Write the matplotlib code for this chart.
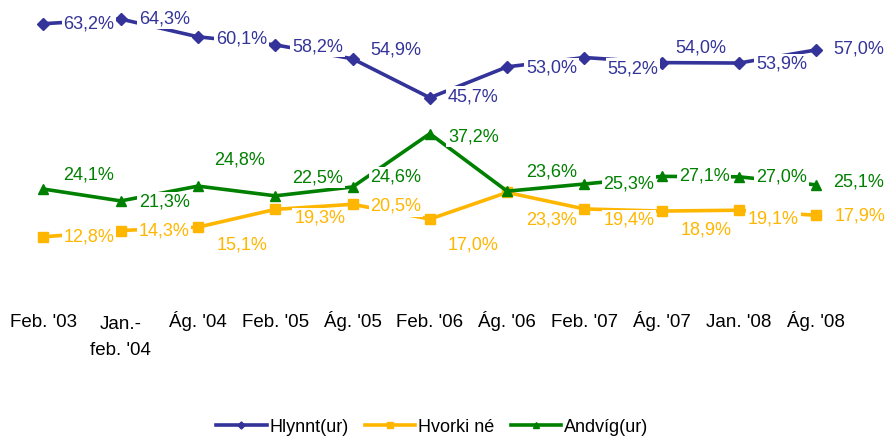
import matplotlib
matplotlib.use("Agg")
import matplotlib.pyplot as plt
from matplotlib.transforms import ScaledTranslation

plt.rcParams['font.family'] = ['Liberation Sans', 'DejaVu Sans']

categories = ["Feb. '03", "Jan.-\nfeb. '04", "Ág. '04", "Feb. '05", "Ág. '05", "Feb. '06",
              "Ág. '06", "Feb. '07", "Ág. '07", "Jan. '08", "Ág. '08"]
hlynnt = [63.2, 64.3, 60.1, 58.2, 54.9, 45.7, 53.0, 55.2, 54.0, 53.9, 57.0]
hvorki = [12.8, 14.3, 15.1, 19.3, 20.5, 17.0, 23.3, 19.4, 18.9, 19.1, 17.9]
andvig = [24.1, 21.3, 24.8, 22.5, 24.6, 37.2, 23.6, 25.3, 27.1, 27.0, 25.1]
series_names = ["Hlynnt(ur)", "Hvorki né", "Andvíg(ur)"]

# label placement offsets in pixels (dx, dy up)
off_blue = [(20, 0), (18, 0), (18, -2), (17, -2), (18, 9), (18, 1), (19, -1),
            (23, -11), (14, 15), (17, -1), (17, 1)]
off_yellow = [(20, 0), (18, 0), (19, -18), (19, -9), (18, -2), (18, -26), (19, -28),
              (19, -11), (19, -19), (9, -9), (18, -1)]
off_green = [(20, 14), (18, -1), (16, 26), (17, 18), (18, 10), (18, -3), (19, 19),
             (19, 0), (17, 0), (17, 0), (17, 3)]

BLUE = '#333399'
YELLOW = '#FFB600'
GREEN = '#008000'

fig = plt.figure(figsize=(8.88, 4.41), dpi=100)
ax = fig.add_axes([4.85 / 888, 150 / 441, 850 / 888, 287.6 / 441])
x = list(range(len(categories)))

specs = [
    (hlynnt, BLUE, 'D', 6, off_blue),
    (hvorki, YELLOW, 's', 7, off_yellow),
    (andvig, GREEN, '^', 7.5, off_green),
]
handles = []
for (vals, col, mk, ms, offs), name in zip(specs, series_names):
    h, = ax.plot(x, vals, color=col, lw=2.6, marker=mk, ms=ms, mec=col, mfc=col,
                 label=name, zorder=2, clip_on=False)
    handles.append(h)
    for xi, v, (dx, dy) in zip(x, vals, offs):
        ax.annotate(f"{v:.1f}%".replace('.', ','), (xi, v), xytext=(dx, dy),
                    textcoords='offset pixels', ha='left', va='center',
                    fontsize=13, color=col, zorder=3,
                    bbox=dict(boxstyle='square,pad=0.1', fc='white', ec='none'))

ax.set_xlim(-0.5, 10.5)
ax.set_ylim(0, 68)
ax.set_xticks(x)
ax.tick_params(axis='x', length=0, pad=26)
ax.set_xticklabels(categories, fontsize=13.5, linespacing=1.7, va='baseline')
for lbl in ax.get_xticklabels():
    nlines = lbl.get_text().count('\n')
    if nlines:
        lbl.set_transform(lbl.get_transform() +
                          ScaledTranslation(0, -0.28 * nlines, fig.dpi_scale_trans))
ax.set_yticks([])
for s in ax.spines.values():
    s.set_visible(False)

fig.legend(handles=handles, loc='center', bbox_to_anchor=(432 / 888, 1 - 427 / 441),
           ncol=3, frameon=False, fontsize=13, handlelength=2.8, handletextpad=0.15,
           columnspacing=0.9, markerscale=0.6)

fig.savefig('out.png', dpi=100)
